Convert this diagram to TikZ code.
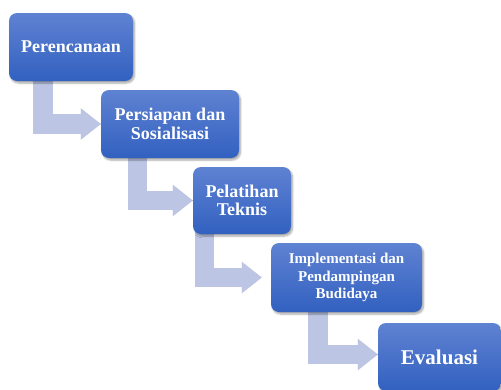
\documentclass[tikz,border=0pt]{standalone}
\usepackage{fontspec}
\setmainfont{Liberation Serif}
\usetikzlibrary{arrows.meta,calc,shadows.blur,backgrounds}
\definecolor{boxtop}{RGB}{95,130,210}
\definecolor{boxbot}{RGB}{50,97,192}
\definecolor{flowc}{RGB}{188,198,228}

\begin{document}
\begin{tikzpicture}[x=1pt,y=-1pt,
      box/.style={rounded corners=8pt,top color=boxtop,bottom color=boxbot,
        text=white,align=center,inner sep=0pt,
        blur shadow={shadow xshift=1.5pt,shadow yshift=-2pt,shadow opacity=35,shadow blur steps=6}},
      flow/.style={line width=19.5pt,draw=flowc,line join=miter,
        -{Triangle[length=20pt,width=30pt]}},
      flowshadow/.style={flow,draw=black,opacity=.18,shift={(2,2.5)}}]
      \useasboundingbox(0,0)rectangle(501,389);
      \node[box,minimum width=124pt,minimum height=68pt,font=\fontsize{18}{18.5}\selectfont\bfseries]
         (plan) at(71,47){Perencanaan};
      \node[box,minimum width=138pt,minimum height=68pt,font=\fontsize{18}{18.5}\selectfont\bfseries]
         (prep) at(170,124){Persiapan dan\\Sosialisasi};
      \node[box,minimum width=98pt,minimum height=67pt,font=\fontsize{18}{18.5}\selectfont\bfseries]
         (train) at(242,200.5){Pelatihan\\Teknis};
      \node[box,minimum width=151pt,minimum height=69pt,font=\fontsize{15}{17.5}\selectfont\bfseries]
         (impl) at(346.5,277.5){Implementasi dan\\Pendampingan\\Budidaya};
      \node[box,minimum width=123pt,minimum height=68pt,font=\fontsize{21}{22}\selectfont\bfseries]
         (eval) at(439.5,357){Evaluasi};
      \begin{scope}[on background layer]
        \draw[flowshadow]($(plan.south)+(-28,-2)$)|-(prep.west);
        \draw[flow]($(plan.south)+(-28,-2)$)|-(prep.west);
        \draw[flowshadow]($(prep.south)+(-32.5,-2)$)|-(train.west);
        \draw[flow]($(prep.south)+(-32.5,-2)$)|-(train.west);
        \draw[flowshadow,shorten >=9pt]($(train.south)+(-37.5,-2)$)|-(impl.west);
        \draw[flow,shorten >=9pt]($(train.south)+(-37.5,-2)$)|-(impl.west);
        \draw[flowshadow]($(impl.south)+(-28.5,-2)$)|-($(eval.west)+(0,-2.5)$);
        \draw[flow]($(impl.south)+(-28.5,-2)$)|-($(eval.west)+(0,-2.5)$);
      \end{scope}
    \end{tikzpicture}
\end{document}
